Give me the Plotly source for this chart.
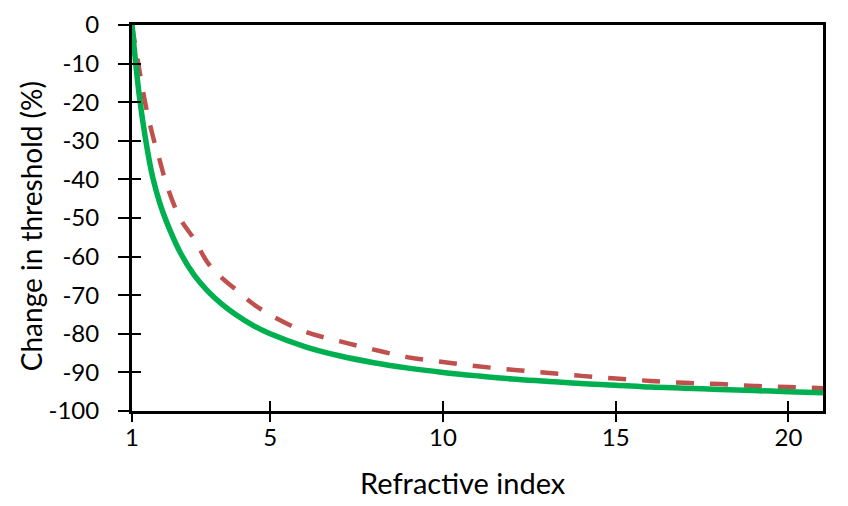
import plotly.graph_objects as go

refractive_index = [1, 1.2, 1.4, 1.6, 1.8, 2, 2.4, 2.8, 3.2, 3.6, 4, 4.5, 5, 6, 7, 8, 9, 10,
                    11, 12, 13, 14, 15, 16, 17, 18, 19, 20, 21]
green_change = [0, -17.5, -30, -39.5, -46, -51, -59, -64.8, -69, -72.3, -75, -77.8, -80,
                -83.3, -85.7, -87.5, -88.9, -90, -90.9, -91.7, -92.3, -92.9, -93.3, -93.8,
                -94.1, -94.4, -94.7, -95, -95.3]
red_change = [0, -11, -21, -28.7, -35, -41.3, -50.2, -55.5, -61.7, -65.5, -68.5, -72.2, -75.1,
              -79.4, -81.9, -84.1, -86.1, -87.3, -88.4, -89.3, -90.1, -90.9, -91.6, -92.2,
              -92.7, -93.0, -93.5, -93.8, -94.1]
x_ticks = [1, 5, 10, 15, 20]
y_ticks = [0, -10, -20, -30, -40, -50, -60, -70, -80, -90, -100]

FONT = "Lato, 'Open Sans', sans-serif"

fig = go.Figure()
fig.add_trace(go.Scatter(x=refractive_index, y=red_change, mode="lines",
                         line=dict(color="#C0504D", width=4.5, dash="18px,16px", shape="spline"),
                         showlegend=False))
fig.add_trace(go.Scatter(x=refractive_index, y=green_change, mode="lines",
                         line=dict(color="#00B050", width=5.5, shape="spline"),
                         showlegend=False))

axis_common = dict(showgrid=False, zeroline=False, showline=True, linecolor="black",
                   linewidth=3, mirror=True, tickcolor="black", tickwidth=2,
                   automargin=False)
overlay_common = dict(showticklabels=False, showgrid=False, zeroline=False,
                      tickcolor="black", tickwidth=2, automargin=False)

fig.update_layout(
    width=840, height=498,
    margin=dict(l=124, r=25, t=17, b=95, autoexpand=False),
    paper_bgcolor="white", plot_bgcolor="white",
    font=dict(family=FONT, color="black", size=24),
    # main x axis: inside ticks so labels sit close to the axis
    xaxis=dict(range=[1, 21], tickvals=x_ticks, ticktext=[str(v) for v in x_ticks],
               ticks="inside", ticklen=10, ticklabelstandoff=3, **axis_common),
    yaxis=dict(range=[-100, 0], tickvals=y_ticks, ticktext=[str(v) for v in y_ticks],
               ticks="outside", ticklen=11, ticklabelstandoff=14, **axis_common),
    # overlay axes provide the other half of the cross ticks
    xaxis2=dict(range=[1, 21], tickvals=x_ticks, ticks="outside", ticklen=10,
                overlaying="x", matches="x", **overlay_common),
    yaxis2=dict(range=[-100, 0], tickvals=y_ticks, ticks="inside", ticklen=9,
                overlaying="y", matches="y", **overlay_common),
    annotations=[
        dict(text="Refractive index", xref="paper", yref="paper", x=0.479, y=-0.184,
             xanchor="center", yanchor="middle", showarrow=False,
             font=dict(family=FONT, size=29)),
        dict(text="Change in threshold (%)", xref="paper", x=-0.146, yref="paper", y=0.479,
             textangle=-90, xanchor="center", yanchor="middle", showarrow=False,
             font=dict(family=FONT, size=28)),
    ],
)
# invisible trace to attach the overlay axes
fig.add_trace(go.Scatter(x=[refractive_index[0]], y=[red_change[0]], xaxis="x2", yaxis="y2",
                         mode="markers", marker=dict(opacity=0), showlegend=False,
                         hoverinfo="skip"))

fig.write_html("out.html")
